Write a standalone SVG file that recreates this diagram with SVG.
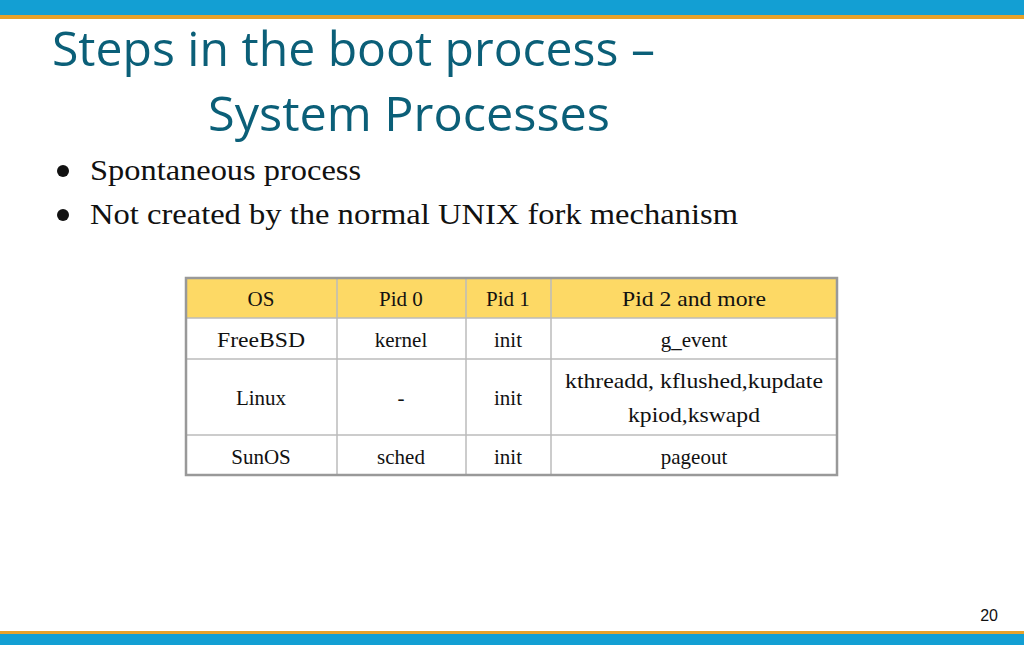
<svg xmlns="http://www.w3.org/2000/svg" width="1024" height="645" viewBox="0 0 1024 645">
<style>
.t{font-family:"Liberation Serif",serif;font-size:21px;fill:#111;text-anchor:middle}
.b{font-family:"Liberation Serif",serif;font-size:30px;fill:#111}
.h{font-family:"Open Sans","Noto Sans",sans-serif;font-size:48px;fill:#0b5f78}
.g{stroke:#bbb;stroke-width:1.5;fill:none}
</style>
<rect width="1024" height="645" fill="#fff"/>
<rect x="0" y="0" width="1024" height="16" fill="#139fd3"/>
<rect x="0" y="15" width="1024" height="4" fill="#e8a22a"/>
<rect x="0" y="631" width="1024" height="4" fill="#e8a22a"/>
<rect x="0" y="634" width="1024" height="11" fill="#139fd3"/>
<text class="h" x="52" y="66" textLength="603" lengthAdjust="spacingAndGlyphs">Steps in the boot process –</text>
<text class="h" x="208" y="131" textLength="402" lengthAdjust="spacingAndGlyphs">System Processes</text>
<circle cx="63" cy="171" r="6" fill="#111"/>
<circle cx="63" cy="215" r="6" fill="#111"/>
<text class="b" x="90" y="180" textLength="271" lengthAdjust="spacingAndGlyphs">Spontaneous process</text>
<text class="b" x="90" y="224" textLength="648" lengthAdjust="spacingAndGlyphs">Not created by the normal UNIX fork mechanism</text>
<g id="table">
<rect x="186" y="278" width="651" height="40" fill="#fdd965"/>
<g class="g">
<line x1="186" y1="318" x2="837" y2="318"/>
<line x1="186" y1="359" x2="837" y2="359"/>
<line x1="186" y1="435" x2="837" y2="435"/>
<line x1="337" y1="278" x2="337" y2="475"/>
<line x1="466" y1="278" x2="466" y2="475"/>
<line x1="551" y1="278" x2="551" y2="475"/>
</g>
<rect x="186" y="278" width="651" height="197" fill="none" stroke="#999" stroke-width="2.5"/>
<text class="t" x="261" y="306">OS</text>
<text class="t" x="401" y="306">Pid 0</text>
<text class="t" x="508" y="306">Pid 1</text>
<text class="t" x="694" y="306" textLength="144" lengthAdjust="spacingAndGlyphs">Pid 2 and more</text>
<text class="t" x="261" y="347" textLength="88" lengthAdjust="spacingAndGlyphs">FreeBSD</text>
<text class="t" x="401" y="347">kernel</text>
<text class="t" x="508" y="347">init</text>
<text class="t" x="694" y="347">g_event</text>
<text class="t" x="261" y="405">Linux</text>
<text class="t" x="401" y="405">-</text>
<text class="t" x="508" y="405">init</text>
<text class="t" x="694" y="388" textLength="258" lengthAdjust="spacingAndGlyphs">kthreadd, kflushed,kupdate</text>
<text class="t" x="694" y="422" textLength="132" lengthAdjust="spacingAndGlyphs">kpiod,kswapd</text>
<text class="t" x="261" y="464">SunOS</text>
<text class="t" x="401" y="464">sched</text>
<text class="t" x="508" y="464">init</text>
<text class="t" x="694" y="464">pageout</text>
</g>
<text x="998" y="621" font-family="Liberation Sans,sans-serif" font-size="16" fill="#111" text-anchor="end">20</text>
</svg>
